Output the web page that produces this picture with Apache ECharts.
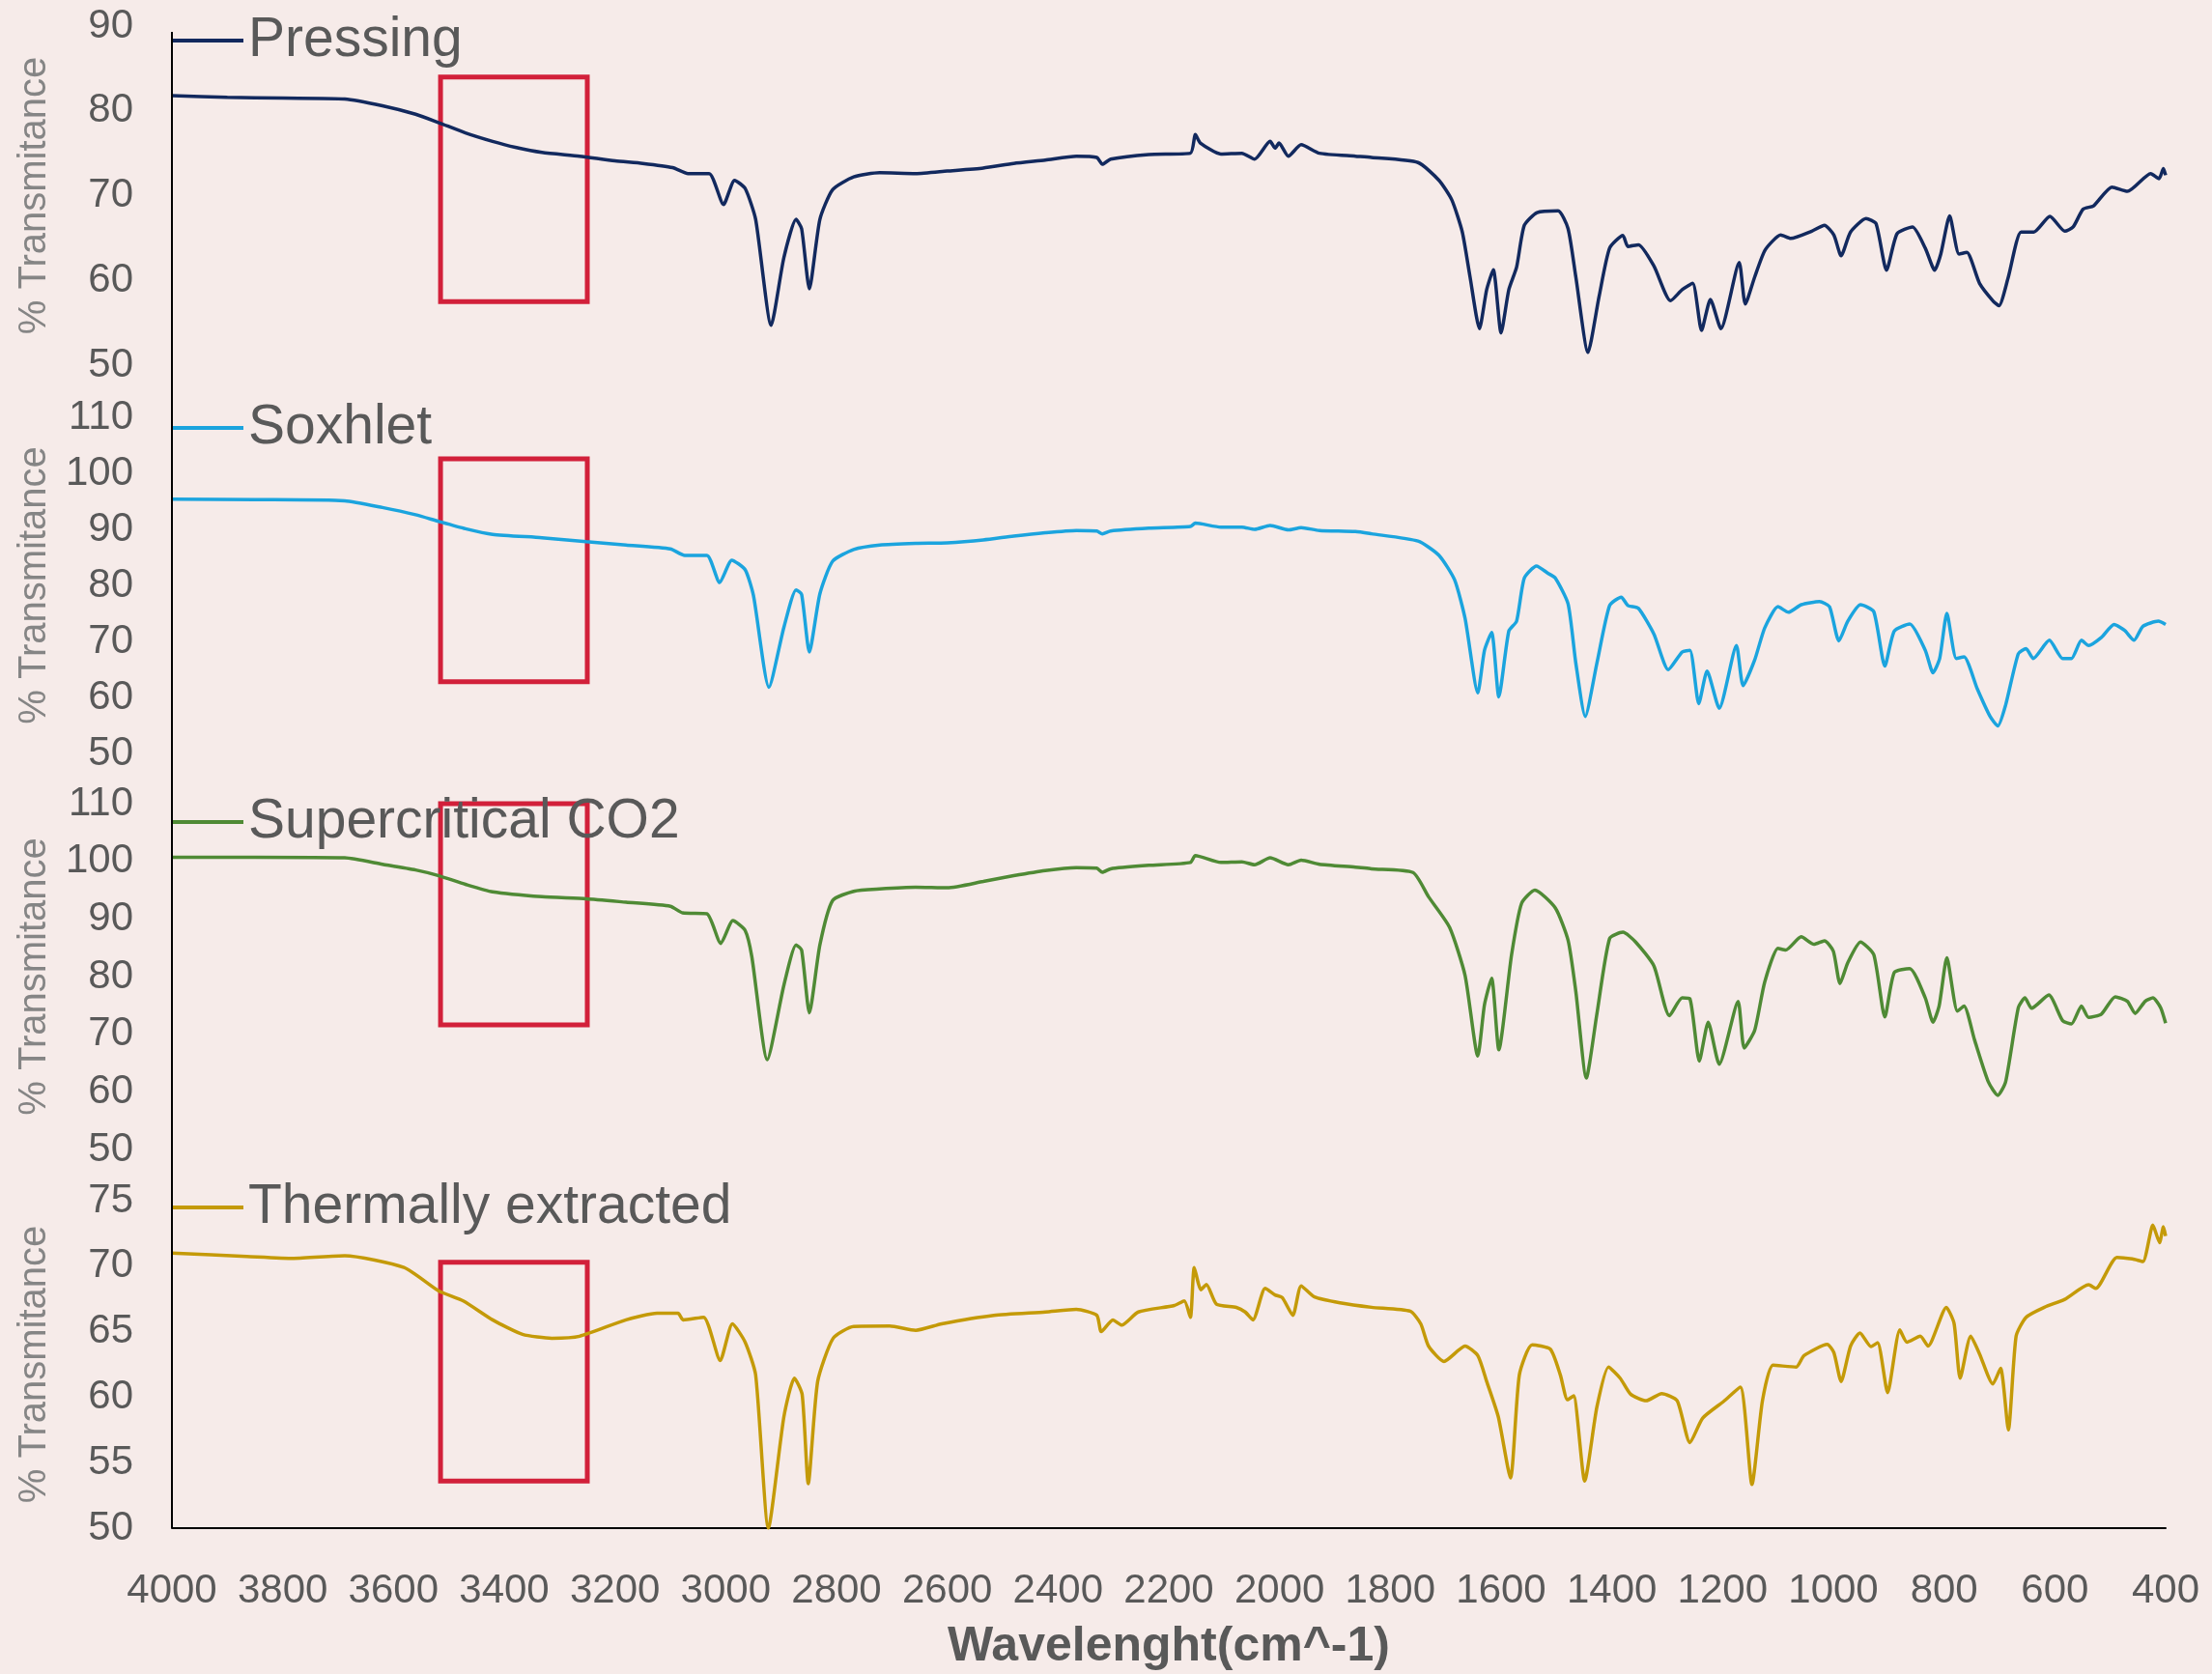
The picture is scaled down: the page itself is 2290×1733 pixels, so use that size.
<!DOCTYPE html>
<html>
<head>
<meta charset="utf-8">
<title>FTIR spectra</title>
<script src="https://cdn.jsdelivr.net/npm/echarts@6/dist/echarts.min.js"></script>
<style>
  html, body { margin: 0; padding: 0; background: #f6ebe9; }
  #chart { width: 2290px; height: 1733px; }
</style>
</head>
<body>
<div id="chart"></div>
<script>
// --- data (wavenumber cm^-1, % transmittance) ---
const seriesNames = ['Pressing', 'Soxhlet', 'Supercritical CO2', 'Thermally extracted']

const pressing = [
  [4000, 81.8], [3900, 81.6], [3800, 81.5], [3688, 81.4], [3620, 80.6], [3560, 79.6], [3518, 78.6],
  [3470, 77.4], [3421, 76.4], [3380, 75.7], [3332, 75.1], [3264, 74.65], [3200, 74.1], [3150, 73.8],
  [3096, 73.3], [3068, 72.6], [3030, 72.6], [3004, 68.95], [2984, 71.8], [2965, 70.85], [2946, 67.2],
  [2918, 54.7], [2895, 62.7], [2873, 67.2], [2863, 66.1], [2849, 59.0], [2830, 67.2], [2807, 70.7],
  [2769, 72.2], [2722, 72.7], [2657, 72.6], [2600, 72.9], [2535, 73.25], [2480, 73.8], [2423, 74.2],
  [2367, 74.65], [2330, 74.5], [2320, 73.7], [2305, 74.3], [2236, 74.85], [2161, 75.0], [2152, 77.2],
  [2143, 76.2], [2106, 74.9], [2068, 75.0], [2045, 74.3], [2017, 76.4], [2008, 75.6], [2001, 76.2],
  [1984, 74.65], [1961, 76.0], [1928, 75.0], [1863, 74.65], [1834, 74.5], [1750, 73.9], [1712, 71.8],
  [1689, 69.5], [1670, 65.7], [1656, 60.4], [1639, 54.3], [1626, 58.9], [1614, 61.25], [1600, 53.8],
  [1586, 58.9], [1572, 61.55], [1558, 66.5], [1535, 68.0], [1497, 68.2], [1479, 66.1], [1465, 60.4],
  [1443, 51.5], [1423, 58.1], [1404, 63.8], [1380, 65.3], [1371, 64.0], [1352, 64.2], [1324, 61.7],
  [1294, 57.6], [1273, 58.9], [1254, 59.65], [1238, 54.1], [1222, 57.75], [1203, 54.3], [1170, 62.1],
  [1159, 57.2], [1142, 60.4], [1123, 63.6], [1095, 65.35], [1077, 64.95], [1039, 65.8], [1016, 66.5],
  [999, 65.35], [986, 62.9], [969, 65.7], [941, 67.3], [923, 66.7], [904, 61.2], [885, 65.5],
  [857, 66.3], [834, 63.8], [817, 61.2], [806, 63.1], [790, 67.6], [773, 63.1], [759, 63.3],
  [736, 59.65], [712, 57.6], [701, 57.0], [684, 60.4], [661, 65.7], [638, 65.7], [609, 67.55],
  [582, 65.8], [567, 66.3], [549, 68.4], [530, 68.8], [497, 71.0], [469, 70.5], [427, 72.6],
  [412, 72.0], [404, 73.2], [400, 72.4]
]

const soxhlet = [
  [4000, 95.4], [3850, 95.3], [3688, 95.1], [3620, 93.9], [3560, 92.6], [3518, 91.4], [3470, 90.1],
  [3421, 89.1], [3332, 88.5], [3252, 87.8], [3180, 87.2], [3100, 86.5], [3074, 85.35], [3034, 85.35],
  [3011, 80.5], [2989, 84.5], [2965, 82.8], [2950, 78.2], [2922, 61.8], [2895, 72.5], [2873, 79.2],
  [2863, 78.4], [2849, 68.1], [2830, 78.5], [2807, 84.3], [2769, 86.4], [2722, 87.2], [2657, 87.5],
  [2600, 87.6], [2535, 88.1], [2480, 88.8], [2423, 89.4], [2367, 89.8], [2330, 89.7], [2320, 89.2],
  [2305, 89.7], [2236, 90.2], [2161, 90.5], [2152, 91.1], [2106, 90.4], [2068, 90.4], [2045, 90.0],
  [2017, 90.7], [1984, 89.9], [1961, 90.3], [1928, 89.8], [1863, 89.6], [1834, 89.2], [1750, 87.9],
  [1712, 85.35], [1684, 81.0], [1665, 74.1], [1642, 60.8], [1630, 68.4], [1617, 71.6], [1604, 60.1],
  [1586, 71.85], [1572, 73.6], [1558, 81.3], [1536, 83.45], [1516, 82.2], [1502, 81.3], [1479, 76.7],
  [1465, 66.1], [1448, 56.6], [1427, 66.1], [1404, 76.4], [1383, 77.9], [1371, 76.4], [1352, 75.9],
  [1324, 71.3], [1298, 64.95], [1273, 68.1], [1259, 68.4], [1243, 58.9], [1228, 64.7], [1206, 58.05],
  [1175, 69.25], [1163, 62.1], [1142, 66.7], [1124, 72.4], [1100, 76.2], [1081, 75.2], [1058, 76.55],
  [1025, 77.1], [1007, 76.2], [990, 70.1], [974, 73.6], [951, 76.55], [927, 75.3], [907, 65.6],
  [890, 71.85], [862, 73.1], [834, 68.4], [820, 64.4], [808, 66.95], [795, 75.0], [778, 66.95],
  [764, 67.25], [740, 61.5], [717, 56.6], [703, 54.9], [689, 58.6], [666, 67.8], [652, 68.7],
  [639, 66.95], [610, 70.2], [586, 66.95], [570, 66.95], [552, 70.2], [539, 69.25], [516, 70.7],
  [493, 73.0], [474, 71.95], [457, 70.2], [441, 72.7], [413, 73.6], [400, 73.0]
]

const scco2 = [
  [4000, 100.7], [3850, 100.7], [3688, 100.6], [3620, 99.5], [3560, 98.5], [3518, 97.5], [3470, 96.0],
  [3421, 94.7], [3332, 93.85], [3252, 93.5], [3180, 92.9], [3100, 92.2], [3078, 91.05], [3034, 90.9],
  [3009, 85.75], [2987, 89.7], [2965, 88.0], [2953, 83.5], [2925, 65.6], [2895, 78.5], [2873, 85.5],
  [2863, 84.6], [2849, 73.7], [2830, 85.5], [2807, 93.2], [2769, 94.8], [2722, 95.2], [2657, 95.5],
  [2600, 95.4], [2535, 96.5], [2480, 97.5], [2423, 98.4], [2367, 98.9], [2330, 98.8], [2320, 98.1],
  [2305, 98.7], [2236, 99.3], [2161, 99.8], [2152, 101.0], [2106, 99.8], [2068, 99.9], [2045, 99.4],
  [2017, 100.6], [1984, 99.4], [1961, 100.2], [1928, 99.5], [1863, 99.0], [1834, 98.7], [1759, 98.05],
  [1731, 93.85], [1693, 88.55], [1665, 80.2], [1642, 66.2], [1630, 75.1], [1617, 79.7], [1604, 67.3],
  [1581, 83.8], [1563, 92.7], [1539, 95.0], [1502, 91.9], [1479, 86.3], [1465, 77.4], [1446, 62.4],
  [1427, 73.5], [1404, 86.6], [1380, 87.7], [1357, 86.0], [1324, 81.85], [1296, 73.2], [1273, 76.3],
  [1259, 76.15], [1242, 65.35], [1226, 72.1], [1206, 64.8], [1172, 75.7], [1161, 67.6], [1142, 70.7],
  [1124, 79.05], [1100, 84.9], [1086, 84.6], [1058, 86.9], [1035, 85.6], [1016, 86.2], [1000, 84.4],
  [988, 78.8], [974, 82.4], [951, 86.0], [927, 83.8], [907, 73.0], [890, 80.7], [862, 81.4],
  [834, 76.3], [820, 72.1], [809, 74.9], [795, 83.25], [776, 74.0], [764, 74.9], [745, 69.0],
  [720, 61.7], [703, 59.4], [689, 61.7], [666, 74.6], [654, 76.3], [642, 74.5], [611, 76.8],
  [586, 72.35], [570, 71.8], [552, 74.9], [539, 72.9], [516, 73.5], [491, 76.5], [469, 75.7],
  [455, 73.6], [437, 75.7], [423, 76.3], [409, 74.6], [400, 71.9]
]

const thermal = [
  [4000, 71.0], [3865, 70.75], [3780, 70.6], [3688, 70.8], [3581, 69.9], [3518, 68.1], [3474, 67.35],
  [3421, 65.9], [3367, 64.8], [3314, 64.5], [3264, 64.65], [3180, 65.9], [3124, 66.4], [3086, 66.4],
  [3077, 65.9], [3040, 66.1], [3010, 62.8], [2988, 65.6], [2965, 64.2], [2946, 61.7], [2923, 50.0],
  [2895, 58.5], [2876, 61.45], [2862, 60.2], [2851, 53.4], [2834, 61.2], [2806, 64.5], [2769, 65.4],
  [2704, 65.43], [2657, 65.1], [2610, 65.6], [2516, 66.25], [2423, 66.5], [2367, 66.7], [2330, 66.25],
  [2322, 65.0], [2301, 65.9], [2285, 65.5], [2255, 66.5], [2190, 67.0], [2172, 67.35], [2161, 66.1],
  [2154, 69.9], [2142, 68.2], [2132, 68.6], [2114, 67.1], [2078, 66.85], [2062, 66.5], [2048, 65.9],
  [2026, 68.3], [2008, 67.8], [1995, 67.6], [1976, 66.25], [1961, 68.5], [1937, 67.65], [1891, 67.2],
  [1834, 66.86], [1764, 66.56], [1745, 65.6], [1731, 63.9], [1703, 62.73], [1665, 63.9], [1642, 63.17],
  [1626, 61.2], [1605, 58.5], [1583, 53.83], [1567, 61.7], [1544, 64.0], [1511, 63.66], [1493, 61.7],
  [1480, 59.8], [1469, 60.1], [1449, 53.6], [1427, 59.24], [1406, 62.3], [1385, 61.45], [1366, 60.22],
  [1338, 59.73], [1310, 60.27], [1282, 59.73], [1259, 56.53], [1236, 58.4], [1198, 59.68], [1168, 60.76],
  [1147, 53.34], [1128, 59.73], [1109, 62.44], [1067, 62.3], [1053, 63.17], [1011, 64.03], [999, 63.4],
  [986, 61.2], [969, 63.9], [952, 64.9], [932, 63.86], [920, 64.16], [902, 60.35], [880, 65.14],
  [867, 64.2], [843, 64.65], [829, 63.9], [796, 66.86], [782, 65.63], [771, 61.45], [752, 64.65],
  [736, 63.3], [712, 61.0], [698, 62.2], [684, 57.5], [670, 64.65], [652, 66.1], [619, 66.86],
  [582, 67.47], [539, 68.58], [526, 68.3], [488, 70.67], [460, 70.55], [441, 70.35], [423, 73.13],
  [411, 71.8], [404, 73.0], [400, 72.3]
]

// highlighted O-H region (red boxes): [x from, x to, y top, y bottom] per panel
const boxes = [
  [3515, 3250, 84, 57.5],
  [3515, 3250, 102.6, 62.8],
  [3515, 3250, 110, 71.6],
  [3515, 3250, 70.3, 53.6]
]

const xTicks = [4000, 3800, 3600, 3400, 3200, 3000, 2800, 2600, 2400, 2200, 2000, 1800, 1600, 1400, 1200, 1000, 800, 600, 400]
const yTicks = [
  [50, 60, 70, 80, 90],
  [50, 60, 70, 80, 90, 100, 110],
  [50, 60, 70, 80, 90, 100, 110],
  [50, 55, 60, 65, 70, 75]
]

// --- layout / style ---
const allData = [pressing, soxhlet, scco2, thermal]
const colors = ['#12295e', '#1ba4de', '#4f8a35', '#c49a08']
const LEFT = 178
const RIGHT = 48
const panels = [
  { top: 27, height: 351, legendY: 42 },
  { top: 432, height: 348, legendY: 443 },
  { top: 832, height: 358, legendY: 851 },
  { top: 1243, height: 339, legendY: 1250 },
]
const FONT = 'Liberation Sans, Arial, sans-serif'
const last = panels.length - 1
const bottomY = panels[last].top + panels[last].height

const chart = echarts.init(document.getElementById('chart'))

const option = {
  backgroundColor: '#f6ebe9',
  animation: false,
  textStyle: { fontFamily: FONT },
  grid: panels.map((p) => ({ left: LEFT, right: RIGHT, top: p.top, height: p.height })),
  legend: panels.map((p, i) => ({
    data: [{ name: seriesNames[i], icon: 'rect' }],
    left: LEFT,
    top: p.legendY - 30,
    padding: 0,
    itemWidth: 74,
    itemHeight: 4,
    selectedMode: false,
    textStyle: { fontSize: 57, color: '#595959', lineHeight: 60, fontFamily: FONT },
  })),
  xAxis: panels.map((p, i) => ({
    type: 'value',
    gridIndex: i,
    inverse: true,
    min: xTicks[xTicks.length - 1],
    max: xTicks[0],
    interval: xTicks[0] - xTicks[1],
    splitLine: { show: false },
    axisTick: { show: false },
    axisLine: { show: i === last, onZero: false, lineStyle: { color: '#000', width: 2 } },
    axisLabel: { show: i === last, fontSize: 42, color: '#595959', margin: 44, formatter: (v) => String(v) },
    name: i === last ? 'Wavelenght(cm^-1)' : '',
    nameLocation: 'middle',
    nameGap: 98,
    nameTextStyle: { fontSize: 50, fontWeight: 'bold', color: '#595959' },
  })),
  yAxis: panels.map((p, i) => ({
    type: 'value',
    gridIndex: i,
    min: yTicks[i][0],
    max: yTicks[i][yTicks[i].length - 1],
    interval: yTicks[i][1] - yTicks[i][0],
    splitLine: { show: false },
    axisTick: { show: false },
    axisLine: { show: false },
    axisLabel: { fontSize: 42, color: '#595959', margin: 40 },
    name: '% Transmitance',
    nameLocation: 'middle',
    nameGap: 122,
    nameTextStyle: { fontSize: 40, color: '#858585' },
  })),
  series: allData.map((d, i) => ({
    name: seriesNames[i],
    type: 'line',
    xAxisIndex: i,
    yAxisIndex: i,
    data: d,
    symbol: 'none',
    smooth: 0.2,
    color: colors[i],
    lineStyle: { color: colors[i], width: 3.5 },
    markArea: {
      silent: true,
      itemStyle: { color: 'rgba(0,0,0,0)', borderColor: '#d2203a', borderWidth: 5 },
      data: [[
        { xAxis: boxes[i][0], yAxis: boxes[i][2] },
        { xAxis: boxes[i][1], yAxis: boxes[i][3] },
      ]],
    },
  })),
  graphic: [{
    type: 'line',
    shape: { x1: LEFT, y1: panels[0].top + 6, x2: LEFT, y2: bottomY },
    style: { stroke: '#000', lineWidth: 2 },
    z: 10,
  }],
}

chart.setOption(option)
window.addEventListener('resize', () => chart.resize())
</script>
</body>
</html>
